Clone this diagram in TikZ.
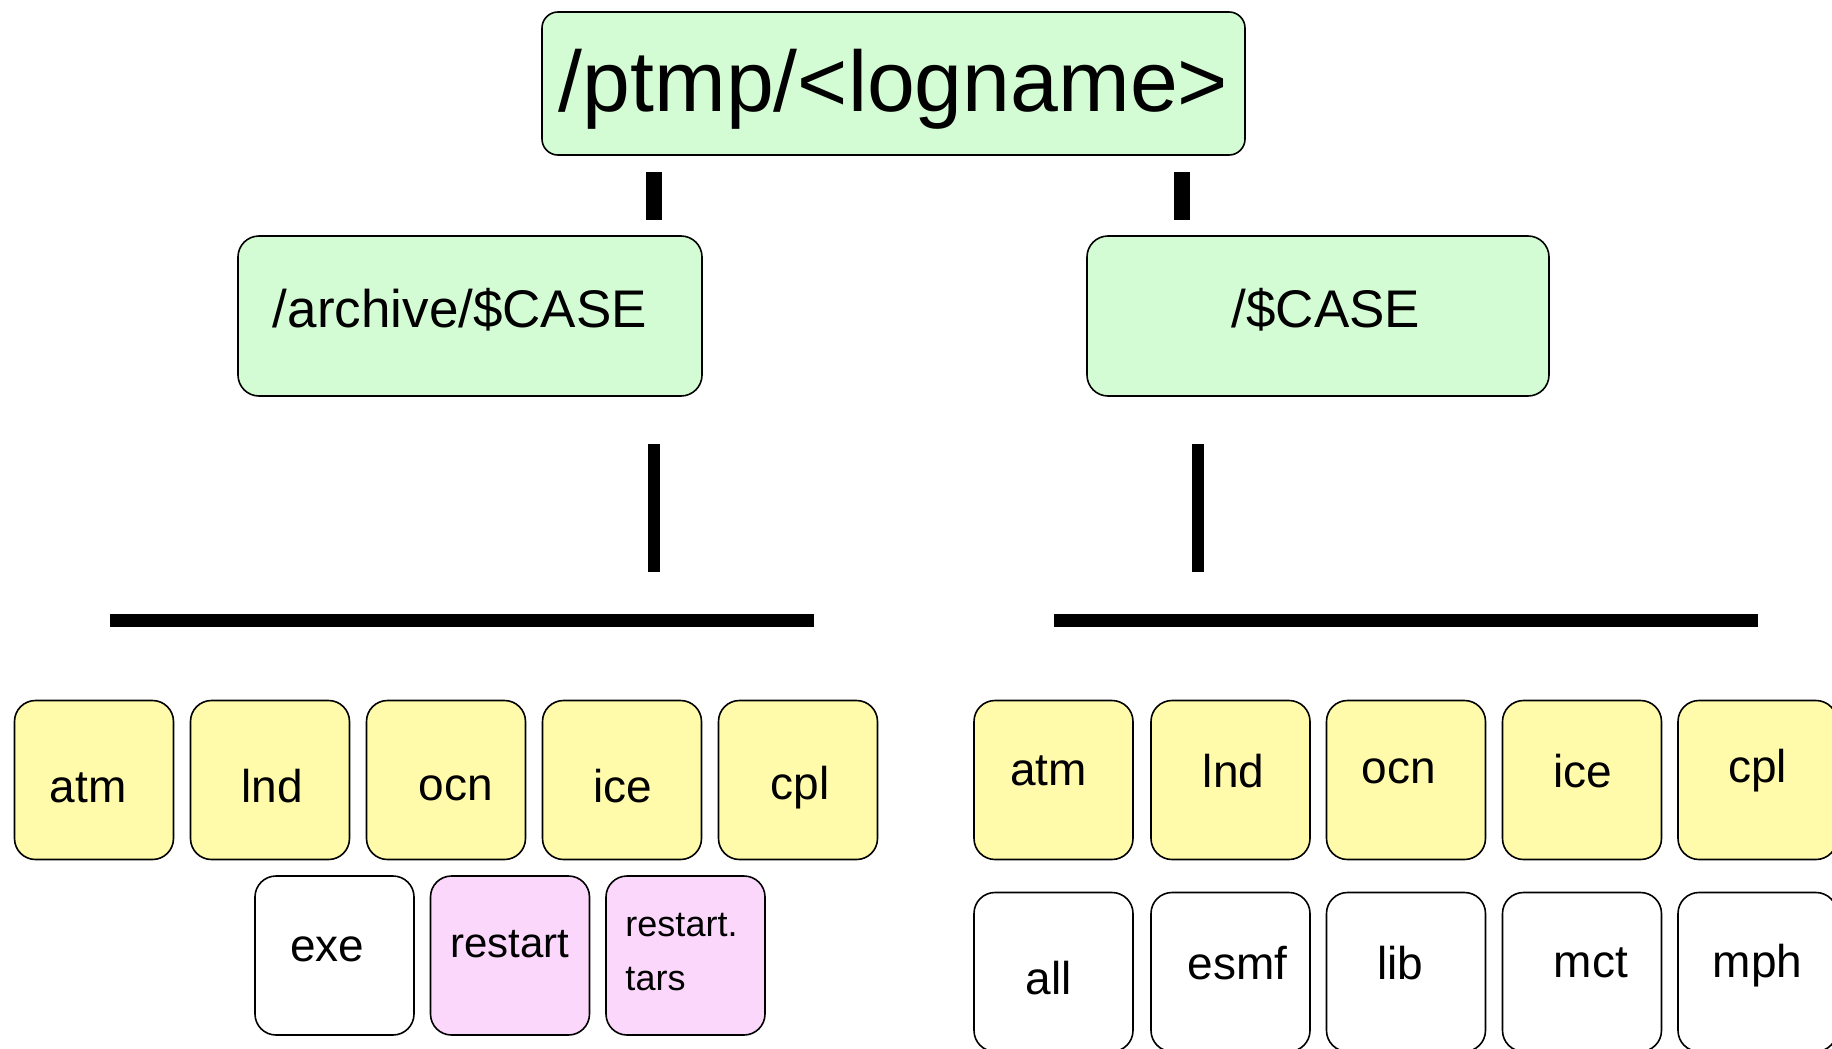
\documentclass[tikz,border=0pt]{standalone}
\usepackage{fontspec}
\setmainfont{Liberation Sans}
\definecolor{boxgreen}{HTML}{D4FCD4}
\definecolor{boxyellow}{HTML}{FFFBAA}
\definecolor{boxpink}{HTML}{FCD7FC}
\begin{document}
\begin{tikzpicture}[x=1pt,y=-1pt,
  bx/.style={draw=black, line width=1.6pt, rounded corners=21pt, inner sep=0pt},
  gbox/.style={bx, fill=boxgreen},
  ybox/.style={bx, fill=boxyellow, minimum width=159pt, minimum height=159pt},
  wbox/.style={bx, fill=white, minimum width=159pt, minimum height=159pt},
  pbox/.style={bx, fill=boxpink, minimum width=159pt, minimum height=159pt},
  txt/.style={font=\fontsize{46}{52}\selectfont},
  bar/.style={line width=#1, black}
]
\useasboundingbox (0,0) rectangle (1832,1049);
\fill[white] (0,0) rectangle (1832,1049);

% top level
\node[gbox, minimum width=703pt, minimum height=143pt, rounded corners=16pt,
  label={[shift={(0,6)},font=\fontsize{86}{96}\selectfont]center:/ptmp/<logname>}] (root) at (893.5,83.5) {};

% second level
\node[gbox, minimum width=464pt, minimum height=160pt,
  label={[shift={(-10,-6)},font=\fontsize{53}{60}\selectfont]center:/archive/\$CASE}] (arch) at (470,316) {};
\node[gbox, minimum width=462pt, minimum height=160pt,
  label={[shift={(8,-6)},font=\fontsize{53}{60}\selectfont]center:/\$CASE}] (case) at (1318,316) {};

% bars
\coordinate (t1a) at (654,172); \coordinate (t1b) at (654,220);
\coordinate (t2a) at (1182,172); \coordinate (t2b) at (1182,220);
\coordinate (m1a) at (654,444); \coordinate (m1b) at (654,572);
\coordinate (m2a) at (1198,444); \coordinate (m2b) at (1198,572);
\coordinate (h1a) at (110,620.5); \coordinate (h1b) at (814,620.5);
\coordinate (h2a) at (1054,620.5); \coordinate (h2b) at (1758,620.5);
\draw[bar=16pt] (t1a) -- (t1b);
\draw[bar=16pt] (t2a) -- (t2b);
\draw[bar=12pt] (m1a) -- (m1b);
\draw[bar=12pt] (m2a) -- (m2b);
\draw[bar=13pt] (h1a) -- (h1b);
\draw[bar=13pt] (h2a) -- (h2b);

% left components
\node[ybox, label={[txt,shift={(-6,8)}]center:atm}] (latm) at (94,780) {};
\node[ybox, label={[txt,shift={(2,6)}]center:lnd}] (llnd) at (270,780) {};
\node[ybox, label={[txt,shift={(10,8)}]center:ocn}] (locn) at (446,780) {};
\node[ybox, label={[txt,shift={(1,6)}]center:ice}] (lice) at (622,780) {};
\node[ybox, label={[txt,shift={(2,8)}]center:cpl}] (lcpl) at (798,780) {};

\node[wbox, label={[txt,shift={(-7,-6)}]center:exe}] (lexe) at (334.5,955.5) {};
\node[pbox, label={[font=\fontsize{42}{48}\selectfont,shift={(0,-11)}]center:restart}] (lrst) at (510,955.5) {};
\node[pbox, label={[font=\fontsize{36}{54}\selectfont,align=left,shift={(-4,-3)}]center:restart.\\tars}] (ltar) at (685.5,955.5) {};

% right components
\node[ybox, label={[txt,shift={(-5,-9)}]center:atm}] (ratm) at (1053.5,780) {};
\node[ybox, label={[txt,shift={(3,-9)}]center:lnd}] (rlnd) at (1230.5,780) {};
\node[ybox, label={[txt,shift={(-7,-9)}]center:ocn}] (rocn) at (1406,780) {};
\node[ybox, label={[txt,shift={(1,-9)}]center:ice}] (rice) at (1582,780) {};
\node[ybox, label={[txt,shift={(0,-9)}]center:cpl}] (rcpl) at (1757.5,780) {};

\node[wbox, label={[txt,shift={(-5,6)}]center:all}] (rall) at (1053.5,972) {};
\node[wbox, label={[txt,shift={(7,-9)}]center:esmf}] (resmf) at (1230.5,972) {};
\node[wbox, label={[txt,shift={(-6,-9)}]center:lib}] (rlib) at (1406,972) {};
\node[wbox, label={[txt,shift={(9,-9)}]center:mct}] (rmct) at (1582,972) {};
\node[wbox, label={[txt,shift={(0,-6)}]center:mph}] (rmph) at (1757.5,972) {};
\end{tikzpicture}
\end{document}
